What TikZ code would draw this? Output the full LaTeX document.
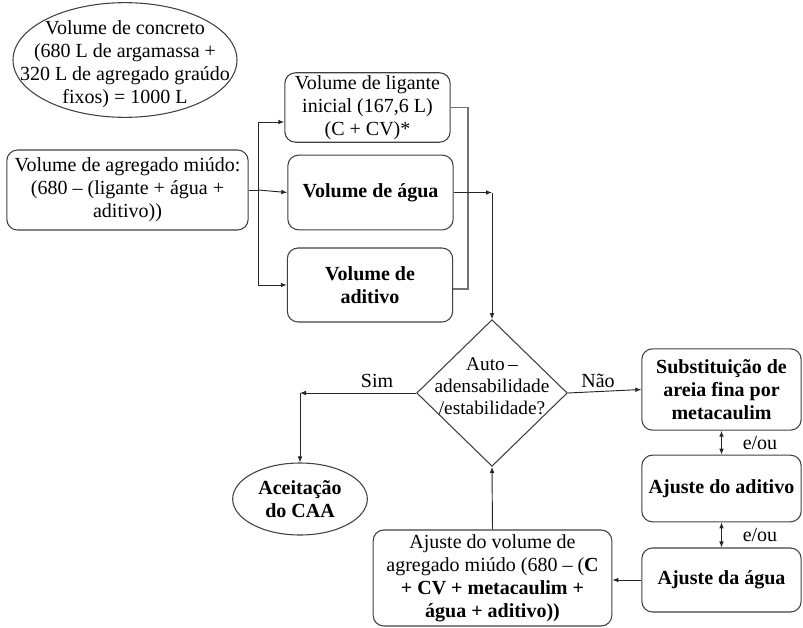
\documentclass[tikz,border=0pt]{standalone}
\usepackage{fontspec}
\setmainfont{Liberation Serif}
\usetikzlibrary{arrows.meta,shapes.geometric}

\begin{document}
\begin{tikzpicture}[x=0.75pt,y=0.75pt,yscale=-1,xscale=1,
    font=\fontsize{15}{17.25}\selectfont,
    box/.style={draw=black!75, line width=0.8pt, rounded corners=8pt, align=center, inner sep=2pt},
    oval/.style={draw=black!75, line width=0.8pt, ellipse, inner sep=0pt},
    txt/.style={align=center, inner sep=0pt},
    arr/.style={draw=black!85, line width=0.7pt, -{Latex[length=4.5pt,width=3.5pt]}},
    link/.style={draw=black!85, line width=0.7pt}]
                \useasboundingbox (0,0) rectangle (803,628);

                % Ellipse
                \node [oval, minimum width=168pt, minimum height=86pt] (conc) at (125,60) {};
                \node [txt] (conct) at (125,64) {Volume de concreto\\(680 L de argamassa +\\320 L de agregado graúdo\\fixos) = 1000 L};
                % Rounded boxes
                \node [box, minimum width=181pt, minimum height=60pt] (agr) at (127.5,190) {Volume de agregado miúdo:\\(680 -- (ligante + água +\\aditivo))};
                \node [box, minimum width=124pt, minimum height=49pt] (lig) at (367.5,107.5) {Volume de ligante\\inicial (167,6 L)\\(C + CV)*};
                \node [box, minimum width=124pt, minimum height=56pt] (agua) at (370.5,192.5) {\textbf{Volume de água}};
                \node [box, minimum width=124pt, minimum height=55.5pt] (adit) at (370,285) {\textbf{Volume de}\\\textbf{aditivo}};
                % Diamond
                \node [draw=black!75, line width=0.8pt, diamond, minimum width=113pt, minimum height=110pt, inner sep=0pt] (dec) at (492,393) {};
                \node [txt, font=\fontsize{14.5}{16.5}\selectfont] (dect) at (492,386) {Auto\,--\\adensabilidade\\/estabilidade?};
                % Ellipse
                \node [oval, minimum width=101pt, minimum height=54pt] (acc) at (300,499) {};
                \node [txt, font=\fontsize{15}{17.25}\selectfont\bfseries] (acct) at (300,499) {Aceitação\\do CAA};
                % Rounded boxes, right column
                \node [box, minimum width=119.5pt, minimum height=61pt] (sub) at (721.5,389.5) {\textbf{Substituição de}\\\textbf{areia fina por}\\\textbf{metacaulim}};
                \node [box, minimum width=119.5pt, minimum height=50pt] (aja) at (721.5,488.5) {\textbf{Ajuste do aditivo}};
                \node [box, minimum width=119.5pt, minimum height=48pt] (agu) at (721.5,580) {\textbf{Ajuste da água}};
                \node [box, minimum width=179pt, minimum height=72pt] (vol) at (492.5,578) {Ajuste do volume de\\agregado miúdo (680 -- (\textbf{C}\\\textbf{+ CV + metacaulim +}\\\textbf{água + aditivo))}};

                % Junctions
                \coordinate (j1) at (258,122);
                \coordinate (j2) at (258,285);
                \coordinate (r1) at (468,107.5);
                \coordinate (r2) at (468,289);
                \coordinate (w1) at (492,192.5);
                \coordinate (s1) at (300,393);

                % Lines from agregado box
                \draw [link] (agr.east) -- (agr.east -| j1);
                \draw [link] (j1) -- (j2);
                \draw [arr] (j1) -- (j1 -| lig.west);
                \draw [arr] (agr.east -| j1) -- (agua.west);
                \draw [arr] (j2) -- (adit.west);
                % Bracket on the right
                \draw [draw=black!55, line width=0.8pt] (lig.east) -- (r1) -- (r2) -- (r2 -| adit.east);
                \draw [arr] (agua.east) -- (w1);
                \draw [arr] (w1) -- (dec.north);
                % Decision
                \draw [arr] (dec.west) -- (s1);
                \draw [arr] (s1) -- (acc.north);
                \draw [arr] (dec.east) -- (sub.west);
                \draw [arr, {Latex[length=4.5pt,width=3.5pt]}-{Latex[length=4.5pt,width=3.5pt]}] (sub.south) -- (aja.north);
                \draw [arr, {Latex[length=4.5pt,width=3.5pt]}-{Latex[length=4.5pt,width=3.5pt]}] (aja.south) -- (agu.north);
                \draw [arr] (agu.west) -- (vol.east |- agu.west);
                \draw [arr] (vol.north) -- (dec.south);

                % Text Node
                \node [txt] (sim) at (377,381) {Sim};
                % Text Node
                \node [txt] (nao) at (598,381) {Não};
                % Text Node
                \node [txt] (eou1) at (760,443) {e/ou};
                % Text Node
                \node [txt] (eou2) at (760,535) {e/ou};
\end{tikzpicture}
\end{document}
